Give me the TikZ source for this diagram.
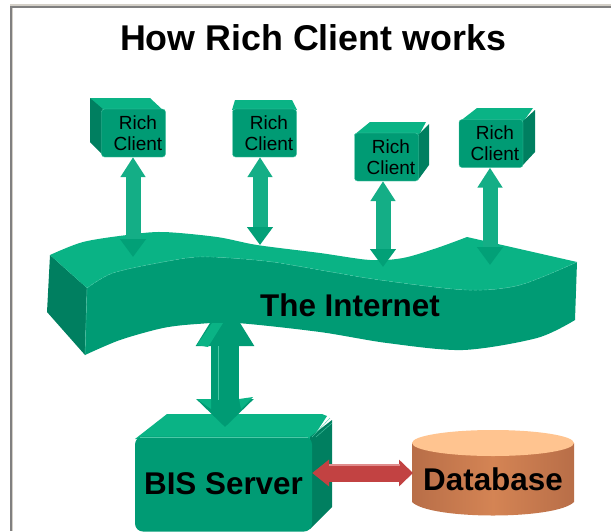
\documentclass[tikz,border=0pt]{standalone}
\usepackage{fontspec}
\setmainfont{Liberation Sans}
\usetikzlibrary{positioning}
\usetikzlibrary{arrows.meta}
\definecolor{gtop}{HTML}{0AB385}
\definecolor{gfront}{HTML}{009B74}
\definecolor{gside}{HTML}{007F60}
\definecolor{gline}{HTML}{4CC8A6}
\definecolor{gshaft}{HTML}{14AE86}
\definecolor{dbtop}{HTML}{FFC490}
\definecolor{dbdark}{HTML}{B86E48}
\definecolor{dbmid}{HTML}{D48454}
\definecolor{redarrow}{HTML}{C24242}
\definecolor{redline}{HTML}{E08C8C}
\definecolor{framelight}{HTML}{D4D0C8}
\tikzset{
    clientnode/.style = {rectangle, rounded corners=3pt, draw=gline, fill=gfront, minimum width=64pt, minimum height=48pt},
    clienttext/.style = {align=center, inner sep=0pt, text=black, font=\fontsize{19}{21.5}\selectfont},
    bignode/.style = {inner sep=0pt, text=black, font=\bfseries\fontsize{31.4}{34}\selectfont},
    servernode/.style = {rectangle, rounded corners=8pt, fill=gfront, text=black, minimum width=177pt, minimum height=95pt, inner sep=0pt, font=\bfseries\fontsize{31.4}{34}\selectfont},
    edgefold/.style = {gline, densely dashed, thin},
    edgec/.style = {gshaft, line width=15pt, {Triangle[width=24pt,length=20pt,color=gshaft]}-{Triangle[width=25pt,length=18pt,color=gfront!80!gtop]}},
    edges/.style = {gfront, line width=28pt, {Triangle[width=55pt,length=48pt]}-{Triangle[width=56pt,length=28pt]}},
    edged/.style = {redarrow, line width=17pt, {Triangle[width=26pt,length=17pt]}-{Triangle[width=26pt,length=14pt]}}
}
\begin{document}
\begin{tikzpicture}[x=1pt,y=-1pt]
  \useasboundingbox (0,0) rectangle (611,531);
  % window frame
  \fill[framelight] (10,4) rectangle (611,6);
  \fill[gray] (10,6) rectangle (611,8);
  \fill[gray] (10,6) rectangle (11.5,531);
  \fill[framelight] (11.5,8) rectangle (13,531);
  \node[inner sep=0pt, font=\bfseries\fontsize{35.8}{38}\selectfont] (title) at (313,38) {How Rich Client works};

  % server top goes under the arrow
  \fill[gtop] (135,439) -- (167,414) -- (322,414) -- (327,416) -- (312,439) -- cycle;
  \fill[gside] (332,420) -- (332,507) -- (310,529) -- (310,437) -- cycle;
  \draw[gline, thin] (312,437) -- (330,418);
  \draw[gline, thin] (316,437) -- (332,423);
  \node[servernode] (server) at (223.5,484) {BIS Server};
  \draw[gline, thin] (140,437) -- (308,437);

  % server arrow lies behind the ribbon
  \coordinate (isrv) at (225,298);
  \coordinate (srvtop) at (225,427);
  \draw[edges] (isrv) -- (srvtop);
  \fill[gtop] (197,345) -- (212,323) -- (223,323) -- (208,347) -- cycle;
  \fill[gtop] (197,399) -- (211,399) -- (211,409) -- cycle;
  \fill[gtop] (239,399) -- (253,397) -- (241,409) -- cycle;
  \draw[gline, thin] (218,346) -- (218,400);

  % the ribbon
  \fill[gfront] plot[smooth] coordinates {(87,288) (113,273) (163,262) (197,257) (230,258) (273,262) (320,270) (380,280) (467,290) (520,285) (577,262)}
     -- (575,320) -- plot[smooth] coordinates {(575,320) (537,338) (463,350) (387,343) (320,332) (237,323) (197,324) (163,328) (120,340) (85,355)} -- cycle;
  \fill[gside] (50,255) -- (87,288) -- (85,355) -- (47,312) -- cycle;
  \fill[gtop] plot[smooth] coordinates {(50,255) (83,242) (127,235) (163,232) (217,237) (257,245) (320,253) (370,260) (403,258) (437,248) (467,237)}
     -- (577,262) -- plot[smooth] coordinates {(577,262) (520,285) (467,290) (380,280) (320,270) (273,262) (230,258) (197,257) (163,262) (113,273) (87,288)} -- cycle;
  \draw[edgefold] plot[smooth] coordinates {(577,262) (520,285) (467,290) (380,280) (320,270) (273,262) (230,258) (197,257) (163,262) (113,273) (87,288)};
  \draw[gline, thin] (87,288) -- (85,355);
  \node[bignode] (internet) at (350,305) {The Internet};

  % client boxes
  \fill[gtop] (90,98) -- (150,98) -- (165,112) -- (102,112) -- cycle;
  \fill[gside] (90,98) -- (104,110) -- (104,156) -- (90,142) -- cycle;
  \node[clientnode] (clienta) at (133.5,133) {};
  \node[clienttext] (tclienta) at (138,133) {Rich\\Client};

  \fill[gtop] (235,100) -- (292,100) -- (297,110) -- (232,110) -- cycle;
  \node[clientnode] (clientb) at (264.5,133) {};
  \node[clienttext] (tclientb) at (269,133) {Rich\\Client};

  \fill[gtop] (370,122) -- (426,122) -- (419,135) -- (354,135) -- cycle;
  \fill[gside] (429,124) -- (429,165) -- (418,180) -- (418,135) -- cycle;
  \node[clientnode] (clientc) at (386.5,157) {};
  \node[clienttext] (tclientc) at (391,157) {Rich\\Client};

  \fill[gtop] (477,108) -- (533,108) -- (523,122) -- (459,122) -- cycle;
  \fill[gside] (535,110) -- (535,152) -- (522,166) -- (522,122) -- cycle;
  \node[clientnode] (clientd) at (491,143.5) {};
  \node[clienttext] (tclientd) at (495,143) {Rich\\Client};

  % links to the internet
  \coordinate (ia) at (133,257);
  \coordinate (ib) at (260,245);
  \coordinate (ic) at (383,267);
  \coordinate (id) at (490,265);
  \draw[edgec] (clienta.south -| ia) -- (ia);
  \draw[edgec] (clientb.south -| ib) -- (ib);
  \draw[edgec] (clientc.south -| ic) -- (ic);
  \draw[edgec] (clientd.south -| id) -- (id);

  % database
  \shade[left color=dbdark, right color=dbdark, middle color=dbmid] (412,443) -- (412,502) .. controls (430,520) and (556,520) .. (574,502) -- (574,443) -- cycle;
  \fill[dbtop] (493,443) ellipse [x radius=81, y radius=13];
  \node[bignode, minimum width=162pt, minimum height=72pt] (database) at (493,479) {Database};
  \coordinate (dbport) at (413,473);
  \draw[edged] (server.east |- dbport) -- (dbport);
  \fill[redline] (329,463.5) rectangle (400,466);
\end{tikzpicture}
\end{document}
